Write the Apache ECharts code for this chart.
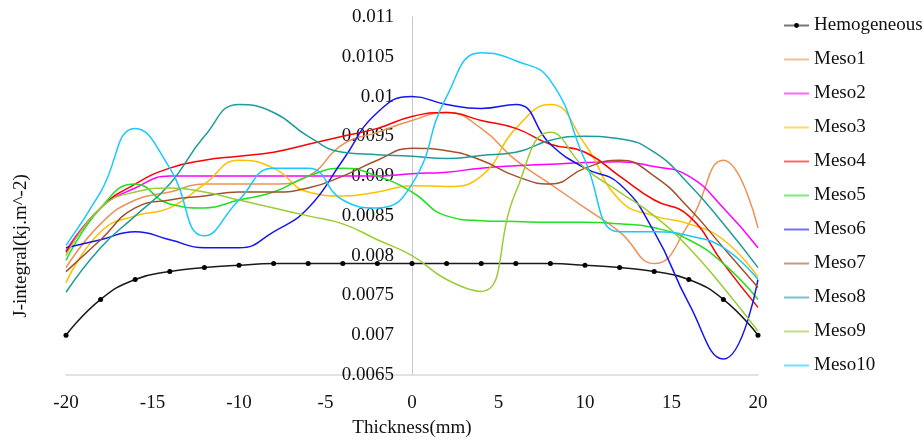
<!DOCTYPE html>
<html>
<head>
<meta charset="utf-8">
<script src="https://cdn.jsdelivr.net/npm/echarts@6/dist/echarts.min.js"></script>
<style>
  html, body { margin: 0; padding: 0; background: #fff; }
  #chart { width: 922px; height: 441px; }
</style>
</head>
<body>
<div id="chart"></div>
<script>
// thickness positions (mm)
var thickness = [-20, -18, -16, -14, -12, -10, -8, -6, -4, -2, 0, 2, 4, 6, 8, 10, 12, 14, 16, 18, 20];

// J-integral values
var hemogeneous = [0.0070, 0.00745, 0.0077, 0.0078, 0.00785, 0.00788, 0.0079, 0.0079, 0.0079, 0.0079, 0.0079, 0.0079, 0.0079, 0.0079, 0.0079, 0.00788, 0.00785, 0.0078, 0.0077, 0.00745, 0.0070];
var meso1  = [0.00785, 0.0084, 0.0087, 0.0088, 0.0089, 0.0089, 0.0089, 0.0090, 0.0094, 0.00955, 0.0097, 0.0098, 0.0096, 0.0092, 0.0089, 0.0086, 0.0083, 0.0079, 0.0084, 0.0092, 0.00835];
var meso2  = [0.00806, 0.0086, 0.00885, 0.0090, 0.0090, 0.0090, 0.0090, 0.0090, 0.0090, 0.0090, 0.00903, 0.00905, 0.0091, 0.00913, 0.00915, 0.00917, 0.00918, 0.00912, 0.0090, 0.0086, 0.0081];
var meso3  = [0.00766, 0.0083, 0.0085, 0.0086, 0.0089, 0.0092, 0.0091, 0.0088, 0.00875, 0.0088, 0.00888, 0.00887, 0.0090, 0.0096, 0.0099, 0.0094, 0.0087, 0.0085, 0.0084, 0.0082, 0.00773];
var meso4  = [0.00804, 0.0086, 0.0089, 0.0091, 0.0092, 0.00925, 0.0093, 0.0094, 0.0095, 0.0096, 0.00975, 0.0098, 0.0097, 0.0096, 0.0094, 0.0093, 0.0090, 0.0087, 0.0085, 0.0079, 0.00735];
var meso5  = [0.00794, 0.0086, 0.0089, 0.00865, 0.0086, 0.0087, 0.0088, 0.0090, 0.0091, 0.0090, 0.0088, 0.0085, 0.00844, 0.00843, 0.00842, 0.00842, 0.0084, 0.00835, 0.0082, 0.0079, 0.00745];
var meso6  = [0.0081, 0.0082, 0.0083, 0.0082, 0.0081, 0.0081, 0.0083, 0.0086, 0.0092, 0.0098, 0.0100, 0.0099, 0.00985, 0.0099, 0.0094, 0.0091, 0.0089, 0.0083, 0.0074, 0.0067, 0.0077];
var meso7  = [0.0078, 0.0082, 0.0086, 0.0087, 0.00875, 0.0088, 0.0088, 0.00885, 0.0090, 0.0092, 0.00935, 0.00932, 0.0092, 0.0090, 0.0089, 0.0091, 0.0092, 0.0090, 0.0086, 0.0081, 0.0076];
var meso8  = [0.00754, 0.0081, 0.0085, 0.0089, 0.0095, 0.0099, 0.0098, 0.0095, 0.0093, 0.00927, 0.00925, 0.00922, 0.00926, 0.0093, 0.00945, 0.0095, 0.00947, 0.0093, 0.0089, 0.0084, 0.00785];
var meso9  = [0.0080, 0.0086, 0.0088, 0.00885, 0.0088, 0.0087, 0.0086, 0.0085, 0.0084, 0.0082, 0.0080, 0.0077, 0.00755, 0.0088, 0.00955, 0.0091, 0.0088, 0.0085, 0.0081, 0.0076, 0.00705];
var meso10 = [0.00813, 0.0088, 0.0096, 0.0091, 0.00825, 0.0087, 0.0091, 0.0091, 0.0087, 0.0086, 0.0089, 0.0100, 0.01055, 0.01045, 0.0102, 0.0092, 0.0083, 0.0083, 0.00825, 0.0081, 0.0077];

var seriesNames = ['Hemogeneous', 'Meso1', 'Meso2', 'Meso3', 'Meso4', 'Meso5', 'Meso6', 'Meso7', 'Meso8', 'Meso9', 'Meso10'];
var seriesValues = [hemogeneous, meso1, meso2, meso3, meso4, meso5, meso6, meso7, meso8, meso9, meso10];
var seriesColors = ['#1a1a1a', '#EE9155', '#FF00FF', '#FFC000', '#FF0000', '#22E022', '#1515F0', '#A0522D', '#1E9C9C', '#9ACD32', '#19C8FF'];

var serif = 'Liberation Serif';

function pairs(vals) {
    return thickness.map(function (x, i) { return [x, vals[i]]; });
}

var chart = echarts.init(document.getElementById('chart'));

var series = seriesNames.map(function (name, i) {
    var isHomo = i === 0;
    return {
        name: name,
        type: 'line',
        smooth: true,
        data: pairs(seriesValues[i]),
        symbol: isHomo ? 'circle' : 'none',
        symbolSize: 5,
        showSymbol: isHomo,
        lineStyle: { width: 1.5, color: seriesColors[i] },
        itemStyle: { color: isHomo ? '#000' : seriesColors[i] },
        z: isHomo ? 2 : 3
    };
});

// legend: only the homogeneous line keeps its dot
var legendData = seriesNames.map(function (name, i) {
    return i === 0 ? { name: name } : { name: name, itemStyle: { opacity: 0 } };
});

// the y axis sits on x = 0, so shift it right from the grid's left edge
var gridLeft = 66, gridRight = 164;
var yShift = (922 - gridLeft - gridRight) / 2;

chart.setOption({
    animation: false,
    grid: { left: gridLeft, right: gridRight, top: 17, bottom: 66 },
    legend: {
        orient: 'vertical',
        left: 778,
        top: 11,
        itemWidth: 25,
        itemHeight: 6,
        itemGap: 15,
        lineStyle: { width: 2, opacity: 0.6 },
        textStyle: { fontFamily: serif, fontSize: 19, color: '#111' },
        data: legendData
    },
    xAxis: {
        type: 'value',
        min: -20,
        max: 20,
        interval: 5,
        axisLine: { onZero: false, lineStyle: { color: '#D9D9D9', width: 1.5 } },
        axisTick: { show: false },
        splitLine: { show: false },
        axisLabel: { fontFamily: serif, fontSize: 19, color: '#111', margin: 19 }
    },
    yAxis: {
        type: 'value',
        min: 0.0065,
        max: 0.011,
        interval: 0.0005,
        offset: -yShift,
        axisLine: { show: true, onZero: false, lineStyle: { color: '#C8C8C8', width: 1 } },
        axisTick: { show: false },
        splitLine: { show: false },
        axisLabel: {
            fontFamily: serif, fontSize: 19, color: '#111', margin: 18,
            formatter: function (v) { return String(+v.toFixed(4)); }
        }
    },
    graphic: [
        {
            type: 'text',
            x: 412, y: 428,
            style: { text: 'Thickness(mm)', font: '19px "Liberation Serif"', fill: '#111', align: 'center', verticalAlign: 'middle' }
        },
        {
            type: 'text',
            x: 21, y: 246,
            rotation: Math.PI / 2,
            style: { text: 'J-integral(kj.m^-2)', font: '19px "Liberation Serif"', fill: '#111', align: 'center', verticalAlign: 'middle' }
        }
    ],
    series: series
});
</script>
</body>
</html>
